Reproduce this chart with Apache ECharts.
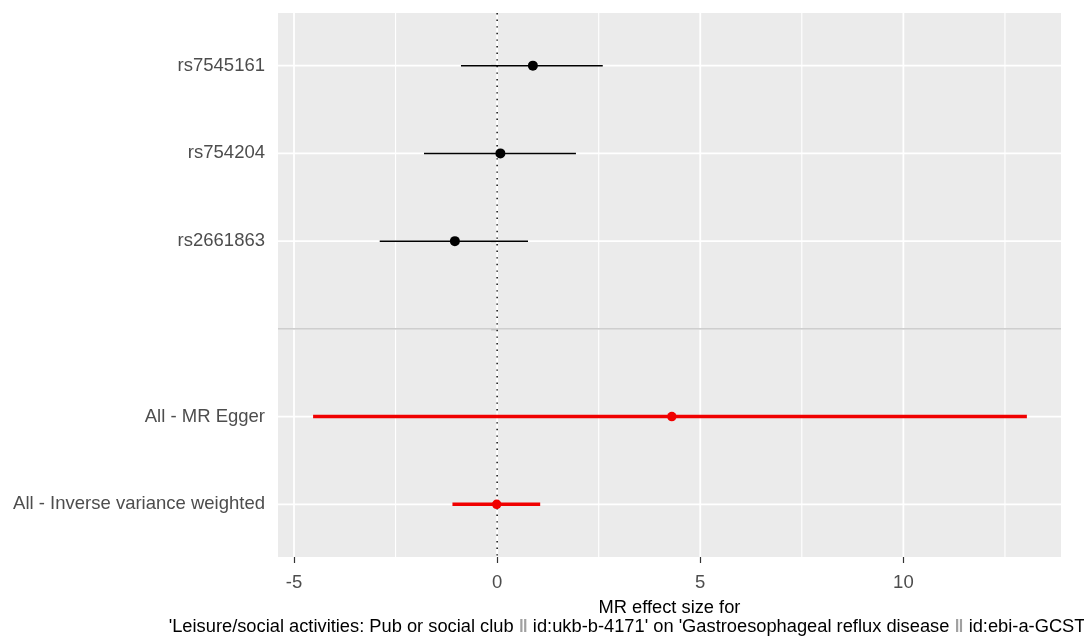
<!DOCTYPE html>
<html>
<head>
<meta charset="utf-8">
<script src="https://cdn.jsdelivr.net/npm/echarts@6/dist/echarts.min.js"></script>
<style>
html,body{margin:0;padding:0;background:#fff;}
#chart{width:1084px;height:644px;}
</style>
</head>
<body>
<div id="chart"></div>
<script>
// Row labels, bottom to top (y position = index + 1)
const rowLabels = ['All - Inverse variance weighted', 'All - MR Egger', '', 'rs2661863', 'rs754204', 'rs7545161'];

// Single SNP estimates (black)
const snpNames = ['rs2661863', 'rs754204', 'rs7545161'];
const snpB  = [-1.04, 0.08, 0.88];
const snpLo = [-2.89, -1.80, -0.89];
const snpHi = [0.76, 1.94, 2.60];

// MR method estimates (red)
const mrNames = ['All - Inverse variance weighted', 'All - MR Egger'];
const mrB  = [-0.01, 4.30];
const mrLo = [-1.10, -4.53];
const mrHi = [1.06, 13.04];

// Axis ticks
const xTicks = [-5, 0, 5, 10];
const xMinor = [-2.5, 2.5, 7.5, 12.5];
const separatorRow = '';
const xTitleLine1 = 'MR effect size for';
const xTitleLine2a = "'Leisure/social activities: Pub or social club ";
const xTitleLine2b = " id:ukb-b-4171' on 'Gastroesophageal reflux disease ";
const xTitleLine2c = " id:ebi-a-GCST90000514'";

const yOf = name => rowLabels.indexOf(name) + 1;
const yTicks = rowLabels.map((_, i) => i + 1);

const FONT = 'Liberation Sans, Arial, sans-serif';

const chart = echarts.init(document.getElementById('chart'), null, {renderer: 'canvas'});

function lineSeg(api, p1, p2, style) {
  return {type: 'line', shape: {x1: p1[0], y1: p1[1], x2: p2[0], y2: p2[1]}, style: style};
}

const option = {
  animation: false,
  backgroundColor: '#ffffff',
  grid: {
    left: 278, right: 23, top: 13, bottom: 87,
    outerBoundsMode: 'none',
    containLabel: false,
    show: true, backgroundColor: '#ebebeb', borderWidth: 0
  },
  xAxis: {
    type: 'value',
    min: -5.394, max: 13.88,
    axisLine: {show: false},
    splitLine: {show: false},
    axisTick: {show: true, length: 6, lineStyle: {color: '#333333', width: 1.2}, customValues: xTicks},
    axisLabel: {customValues: xTicks, color: '#4d4d4d', fontFamily: FONT, fontSize: 18.5, margin: 16},
    name: [xTitleLine1, xTitleLine2a + '{g|‖}' + xTitleLine2b + '{g|‖}' + xTitleLine2c].join('\n'),
    nameLocation: 'middle',
    nameGap: 41,
    nameTextStyle: {
      color: '#000000', fontFamily: FONT, fontSize: 18.3, lineHeight: 19, verticalAlign: 'top',
      rich: {g: {color: '#a0a0a0', fontFamily: FONT, fontSize: 18.3, fontWeight: 'bold', lineHeight: 19}}
    }
  },
  yAxis: {
    type: 'value',
    min: 0.4, max: 6.6,
    axisLine: {show: false},
    splitLine: {show: false},
    axisTick: {show: true, length: 6, lineStyle: {color: '#333333', width: 1.2}, customValues: yTicks},
    axisLabel: {
      customValues: yTicks,
      color: '#4d4d4d', fontFamily: FONT, fontSize: 18.5, margin: 13,
      formatter: v => rowLabels[Math.round(v) - 1] || ''
    }
  },
  series: [
    {
      name: 'gridlines',
      type: 'custom',
      silent: true,
      z: 1,
      data: [0],
      renderItem: function (params, api) {
        const cs = params.coordSys;
        const children = [];
        xMinor.forEach(v => {
          const x = api.coord([v, 1])[0];
          children.push(lineSeg(api, [x, cs.y], [x, cs.y + cs.height], {stroke: '#ffffff', lineWidth: 1.1}));
        });
        xTicks.forEach(v => {
          const x = api.coord([v, 1])[0];
          children.push(lineSeg(api, [x, cs.y], [x, cs.y + cs.height], {stroke: '#ffffff', lineWidth: 1.8}));
        });
        yTicks.forEach(v => {
          const y = api.coord([0, v])[1];
          children.push(lineSeg(api, [cs.x, y], [cs.x + cs.width, y], {stroke: '#ffffff', lineWidth: 1.8}));
        });
        return {type: 'group', children: children};
      }
    },
    {
      name: 'reference',
      type: 'custom',
      silent: true,
      z: 2,
      data: [0],
      renderItem: function (params, api) {
        const cs = params.coordSys;
        const ySep = api.coord([0, yOf(separatorRow)])[1];
        const x0 = api.coord([0, 1])[0];
        return {type: 'group', children: [
          lineSeg(api, [cs.x, ySep], [cs.x + cs.width, ySep], {stroke: '#bebebe', lineWidth: 1.4}),
          lineSeg(api, [x0, cs.y], [x0, cs.y + cs.height], {stroke: '#000000', lineWidth: 1.4, lineDash: [1.4, 5.2]})
        ]};
      }
    },
    {
      name: 'snp-ci',
      type: 'custom',
      z: 3,
      data: snpNames.map((n, i) => [snpLo[i], snpHi[i], yOf(n)]),
      renderItem: function (params, api) {
        const y = api.value(2);
        const p1 = api.coord([api.value(0), y]);
        const p2 = api.coord([api.value(1), y]);
        return lineSeg(api, p1, p2, {stroke: '#000000', lineWidth: 1.5});
      }
    },
    {
      name: 'mr-ci',
      type: 'custom',
      z: 3,
      data: mrNames.map((n, i) => [mrLo[i], mrHi[i], yOf(n)]),
      renderItem: function (params, api) {
        const y = api.value(2);
        const p1 = api.coord([api.value(0), y]);
        const p2 = api.coord([api.value(1), y]);
        return lineSeg(api, p1, p2, {stroke: '#f00000', lineWidth: 3.5});
      }
    },
    {
      name: 'snp-b',
      type: 'scatter',
      z: 4,
      symbol: 'circle',
      symbolSize: 10,
      itemStyle: {color: '#000000', opacity: 1},
      data: snpNames.map((n, i) => [snpB[i], yOf(n)])
    },
    {
      name: 'mr-b',
      type: 'scatter',
      z: 4,
      symbol: 'circle',
      symbolSize: 9.5,
      itemStyle: {color: '#f00000', opacity: 1},
      data: mrNames.map((n, i) => [mrB[i], yOf(n)])
    }
  ]
};
chart.setOption(option);
</script>
</body>
</html>
